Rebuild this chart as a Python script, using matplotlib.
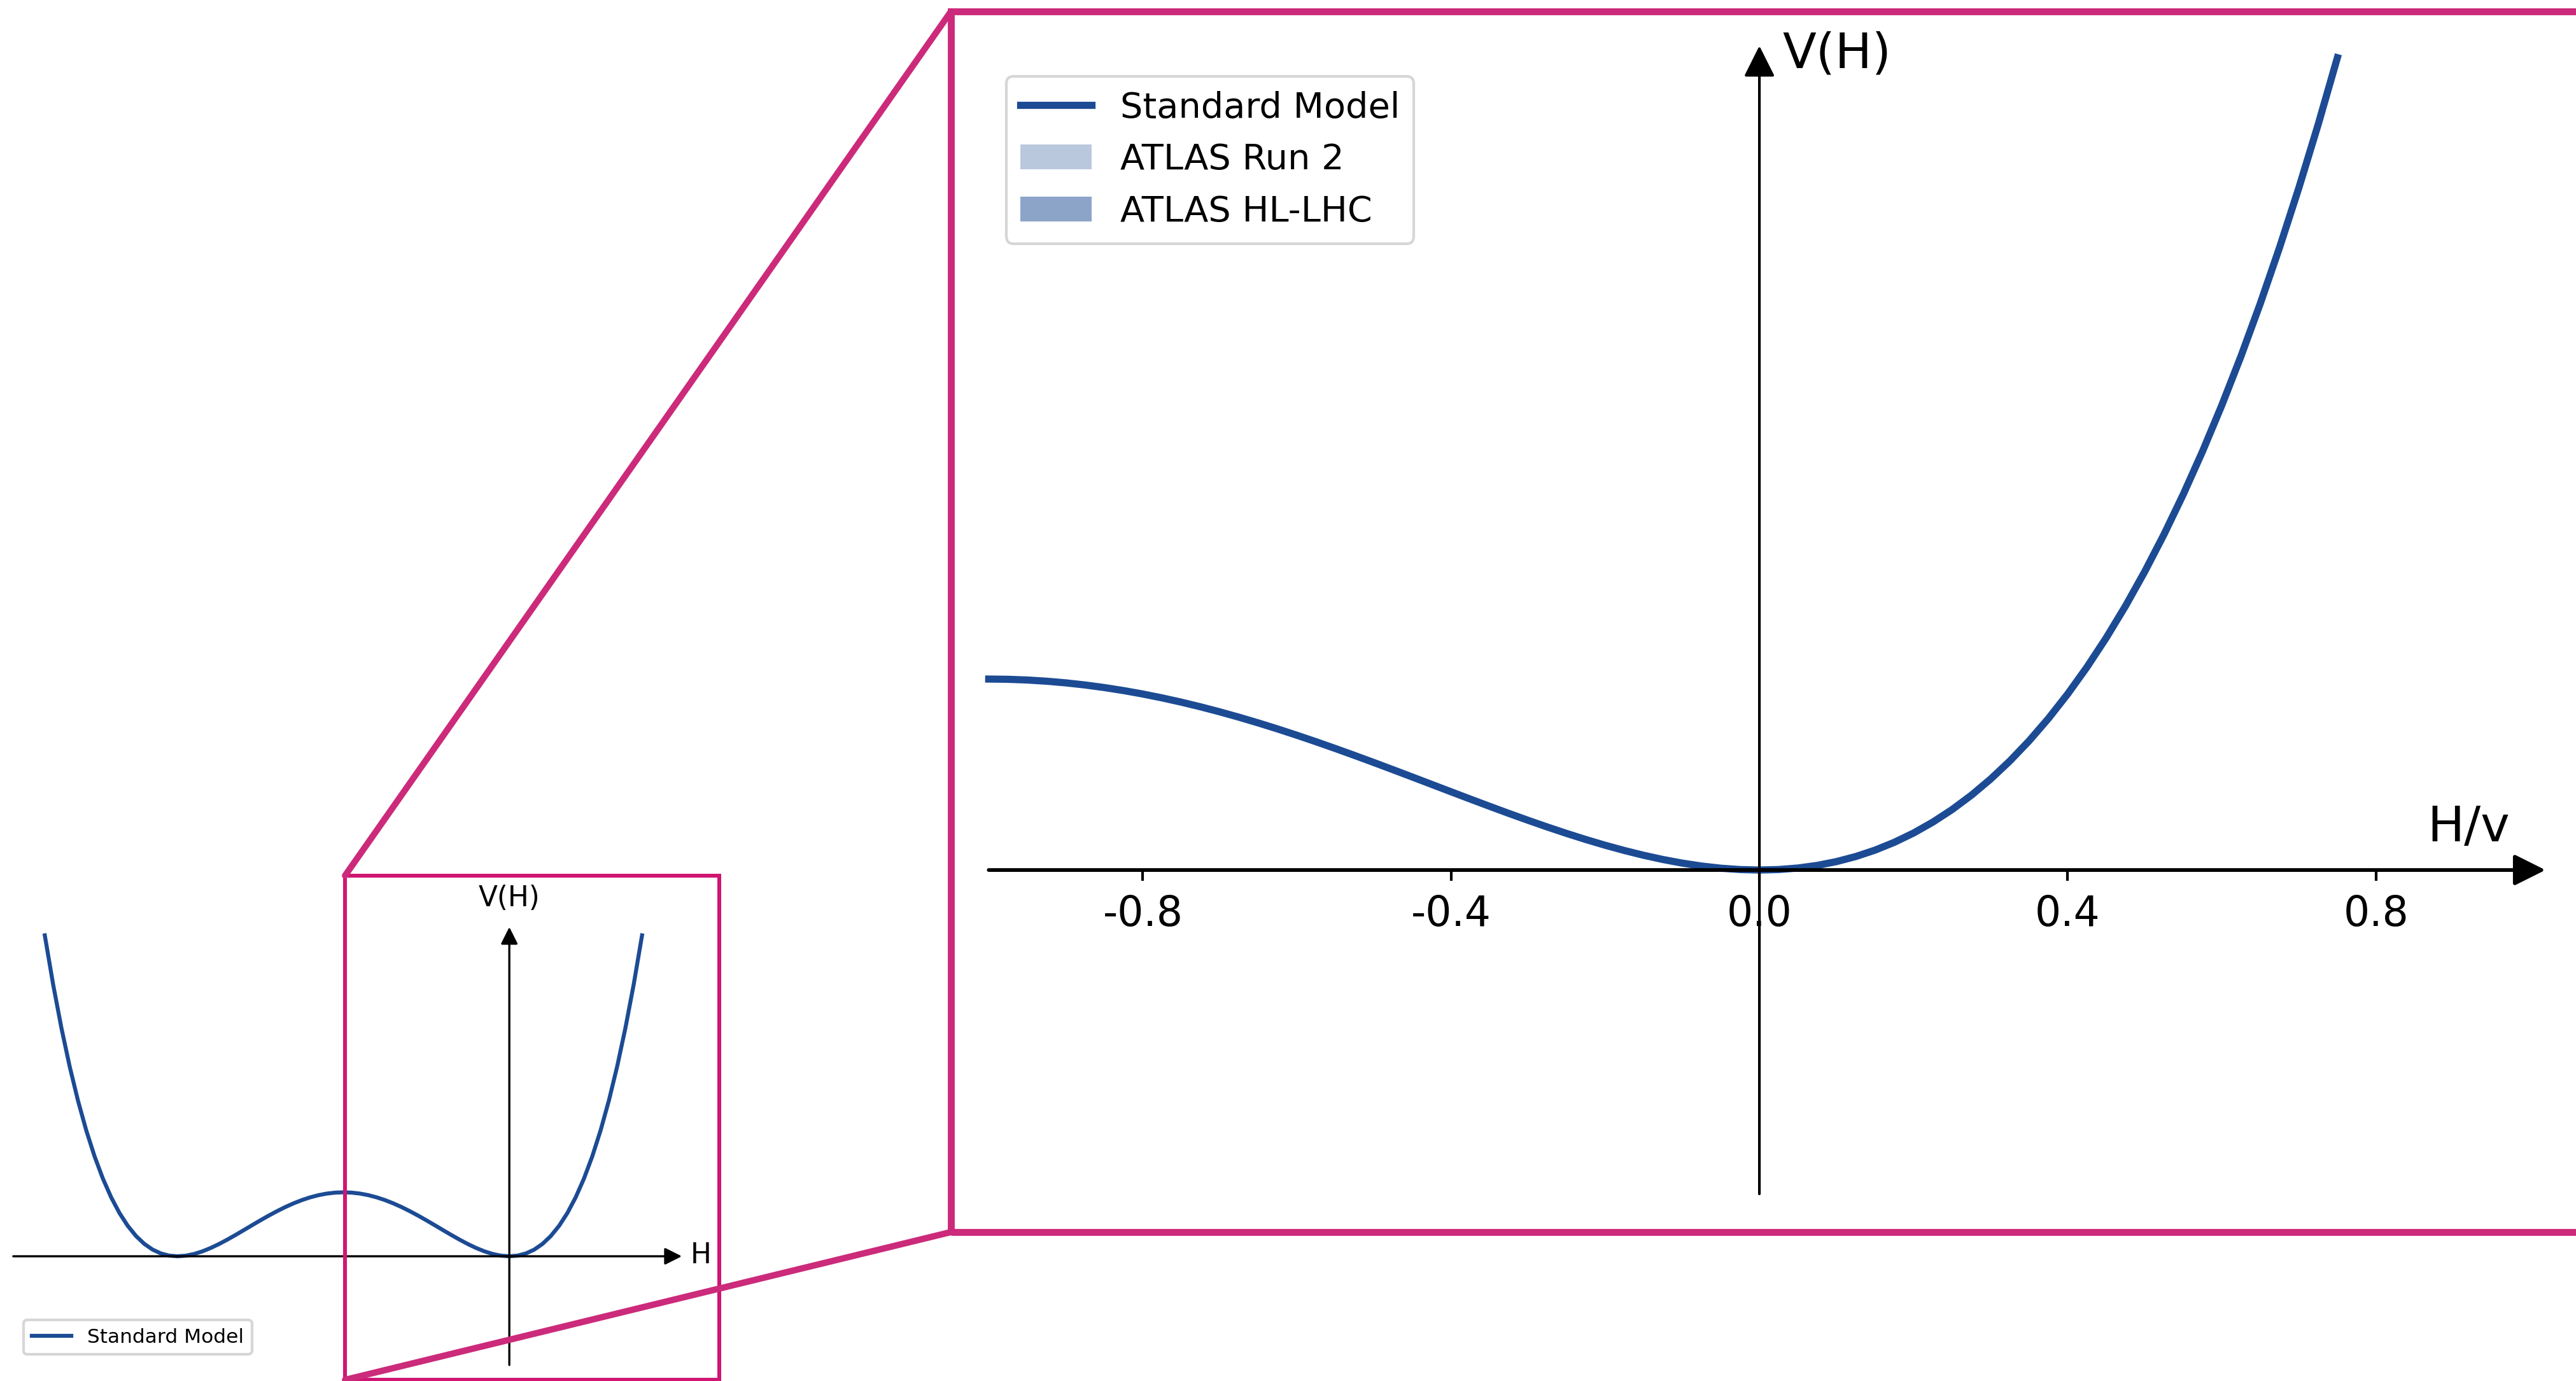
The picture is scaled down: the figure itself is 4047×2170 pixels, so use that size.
import matplotlib
matplotlib.use("Agg")
import matplotlib.pyplot as plt
from matplotlib.patches import Rectangle, Patch, ConnectionPatch
from matplotlib.lines import Line2D

plt.rcParams['font.family'] = ['DejaVu Sans']
plt.rcParams['axes.unicode_minus'] = False

# ---------------- data ----------------
# overview: V(H) over a wide H range (double well)
h_full = [-2.8, -2.75, -2.7, -2.65, -2.6, -2.55, -2.5, -2.45, -2.4, -2.35,
          -2.3, -2.25, -2.2, -2.15, -2.1, -2.05, -2.0, -1.95, -1.9, -1.85,
          -1.8, -1.75, -1.7, -1.65, -1.6, -1.55, -1.5, -1.45, -1.4, -1.35,
          -1.3, -1.25, -1.2, -1.15, -1.1, -1.05, -1.0, -0.95, -0.9, -0.85,
          -0.8, -0.75, -0.7, -0.65, -0.6, -0.55, -0.5, -0.45, -0.4, -0.35,
          -0.3, -0.25, -0.2, -0.15, -0.1, -0.05, 0.0, 0.05, 0.1, 0.15,
          0.2, 0.25, 0.3, 0.35, 0.4, 0.45, 0.5, 0.55, 0.6, 0.65,
          0.7, 0.75, 0.8]
v_full = [1.2544, 1.063477, 0.893025, 0.741752, 0.6084, 0.491752, 0.390625, 0.303877, 0.2304, 0.169127,
          0.119025, 0.079102, 0.0484, 0.026002, 0.011025, 0.002627, 0.0, 0.002377, 0.009025, 0.019252,
          0.0324, 0.047852, 0.065025, 0.083377, 0.1024, 0.121627, 0.140625, 0.159002, 0.1764, 0.192502,
          0.207025, 0.219727, 0.2304, 0.238877, 0.245025, 0.248752, 0.25, 0.248752, 0.245025, 0.238877,
          0.2304, 0.219727, 0.207025, 0.192502, 0.1764, 0.159002, 0.140625, 0.121627, 0.1024, 0.083377,
          0.065025, 0.047852, 0.0324, 0.019252, 0.009025, 0.002377, 0.0, 0.002627, 0.011025, 0.026002,
          0.0484, 0.079102, 0.119025, 0.169127, 0.2304, 0.303877, 0.390625, 0.491752, 0.6084, 0.741752,
          0.893025, 1.063477, 1.2544]

# zoomed: V(H) vs H/v near the minimum
h_zoom = [-1.0, -0.975, -0.95, -0.925, -0.9, -0.875, -0.85, -0.825, -0.8, -0.775,
          -0.75, -0.725, -0.7, -0.675, -0.65, -0.625, -0.6, -0.575, -0.55, -0.525,
          -0.5, -0.475, -0.45, -0.425, -0.4, -0.375, -0.35, -0.325, -0.3, -0.275,
          -0.25, -0.225, -0.2, -0.175, -0.15, -0.125, -0.1, -0.075, -0.05, -0.025,
          0.0, 0.025, 0.05, 0.075, 0.1, 0.125, 0.15, 0.175, 0.2, 0.225,
          0.25, 0.275, 0.3, 0.325, 0.35, 0.375, 0.4, 0.425, 0.45, 0.475,
          0.5, 0.525, 0.55, 0.575, 0.6, 0.625, 0.65, 0.675, 0.7, 0.725,
          0.75]
v_zoom = [0.25, 0.249688, 0.248752, 0.247195, 0.245025, 0.242249, 0.238877, 0.234922, 0.2304, 0.225328,
          0.219727, 0.213617, 0.207025, 0.199977, 0.192502, 0.184631, 0.1764, 0.167844, 0.159002, 0.149914,
          0.140625, 0.13118, 0.121627, 0.112016, 0.1024, 0.092835, 0.083377, 0.074086, 0.065025, 0.056258,
          0.047852, 0.039875, 0.0324, 0.0255, 0.019252, 0.013733, 0.009025, 0.005211, 0.002377, 0.00061,
          0.0, 0.000641, 0.002627, 0.006055, 0.011025, 0.017639, 0.026002, 0.036219, 0.0484, 0.062656,
          0.079102, 0.097852, 0.119025, 0.142742, 0.169127, 0.198303, 0.2304, 0.265547, 0.303877, 0.345524,
          0.390625, 0.43932, 0.491752, 0.548063, 0.6084, 0.672913, 0.741752, 0.81507, 0.893025, 0.975774,
          1.063477]

xticks_zoom = [-0.8, -0.4, 0.0, 0.4, 0.8]
legend_labels = ["Standard Model", "ATLAS Run 2", "ATLAS HL-LHC"]
band_alphas = [0.3, 0.5]

# ---------------- style ----------------
BLUE = '#1c4b94'
MAG = '#cc2a7a'
MAG2 = '#d01572'

W, H = 4047, 2170
DPI = 300
fig = plt.figure(figsize=(W / DPI, H / DPI), dpi=DPI)


def fbox(left, top, right, bottom):
    return [left / W, 1 - bottom / H, (right - left) / W, (bottom - top) / H]


# ---------------- small overview axes ----------------
ax_s = fig.add_axes(fbox(0, 1371, 1139, 2171))
ax_s.set_xlim(-3.07, 1.30)
ax_s.set_ylim(-0.49, 1.50)
for sp in ax_s.spines.values():
    sp.set_visible(False)
ax_s.set_xticks([])
ax_s.set_yticks([])
ax_s.patch.set_alpha(0)

line_s, = ax_s.plot(h_full, v_full, color=BLUE, lw=1.5, label="Standard Model")
arr_s = dict(arrowstyle='-|>', mutation_scale=13.5, lw=0.8, color='k',
             shrinkA=0, shrinkB=0)
ax_s.annotate('', xy=(1.04, 0), xytext=(-2.99, 0), arrowprops=arr_s, annotation_clip=False)
ax_s.annotate('', xy=(0, 1.287), xytext=(0, -0.425), arrowprops=arr_s, annotation_clip=False)
ax_s.text(1.155, 0.005, 'H', fontsize=10.5, ha='center', va='center')
ax_s.text(0.0, 1.40, 'V(H)', fontsize=10.5, ha='center', va='center')

ax_s.add_patch(Rectangle((-0.99, -0.483), 2.257, 1.971, fill=False, ec=MAG2,
                         lw=1.45, clip_on=False, zorder=4))

fig.legend(handles=[line_s], labels=[legend_labels[0]], loc='lower left',
           bbox_to_anchor=(37 / W, 1 - 2128 / H), bbox_transform=fig.transFigure,
           borderaxespad=0, fontsize=7.5)

# ---------------- big zoomed axes ----------------
ax_b = fig.add_axes(fbox(1494, 18, 4200, 1936))
ax_b.set_xlim(-1.049, 1.186)
ax_b.set_ylim(-0.474, 1.124)
ax_b.patch.set_alpha(0)
for name, sp in ax_b.spines.items():
    sp.set_visible(False)
ax_b.spines['bottom'].set_position(('data', 0))
ax_b.set_xticks(xticks_zoom)
ax_b.set_xticklabels([f"{t:.1f}" for t in xticks_zoom])
ax_b.set_yticks([])
ax_b.tick_params(axis='x', direction='out', length=4, width=1.0, pad=5,
                 labelsize=15.5)

ax_b.plot(h_zoom, v_zoom, color=BLUE, lw=2.7, zorder=3)
arr_x = dict(arrowstyle='-|>', mutation_scale=25, lw=1.4, color='k',
             shrinkA=0, shrinkB=0)
arr_y = dict(arrowstyle='-|>', mutation_scale=25, lw=1.0, color='k',
             shrinkA=0, shrinkB=0)
ax_b.annotate('', xy=(1.02, 0), xytext=(-1.0, 0), arrowprops=arr_x, annotation_clip=False)
ax_b.annotate('', xy=(0, 1.079), xytext=(0, -0.424), arrowprops=arr_y, annotation_clip=False)
ax_b.text(0.92, 0.055, 'H/v', fontsize=18.5, ha='center', va='center')
ax_b.text(0.03, 1.068, 'V(H)', fontsize=18.5, ha='left', va='center')

ax_b.add_patch(Rectangle((0, 0), 1, 1, transform=ax_b.transAxes, fill=False,
                         ec=MAG, lw=2.6, clip_on=False, zorder=5))

handles_b = [Line2D([], [], color=BLUE, lw=2.7)] + \
            [Patch(facecolor=BLUE, alpha=a, lw=0) for a in band_alphas]
fig.legend(handles=handles_b, labels=legend_labels, loc='upper left',
           bbox_to_anchor=(1581 / W, 1 - 120 / H), bbox_transform=fig.transFigure,
           borderaxespad=0, fontsize=13.4)

# ---------------- connectors ----------------
for ya, yb in [(1.488, 1.0), (-0.483, 0.0)]:
    con = ConnectionPatch(xyA=(-0.99, ya), coordsA=ax_s.transData,
                          xyB=(0.0, yb), coordsB=ax_b.transAxes,
                          color=MAG, lw=2.4, zorder=6)
    fig.add_artist(con)

fig.savefig('out.png', dpi=DPI)
